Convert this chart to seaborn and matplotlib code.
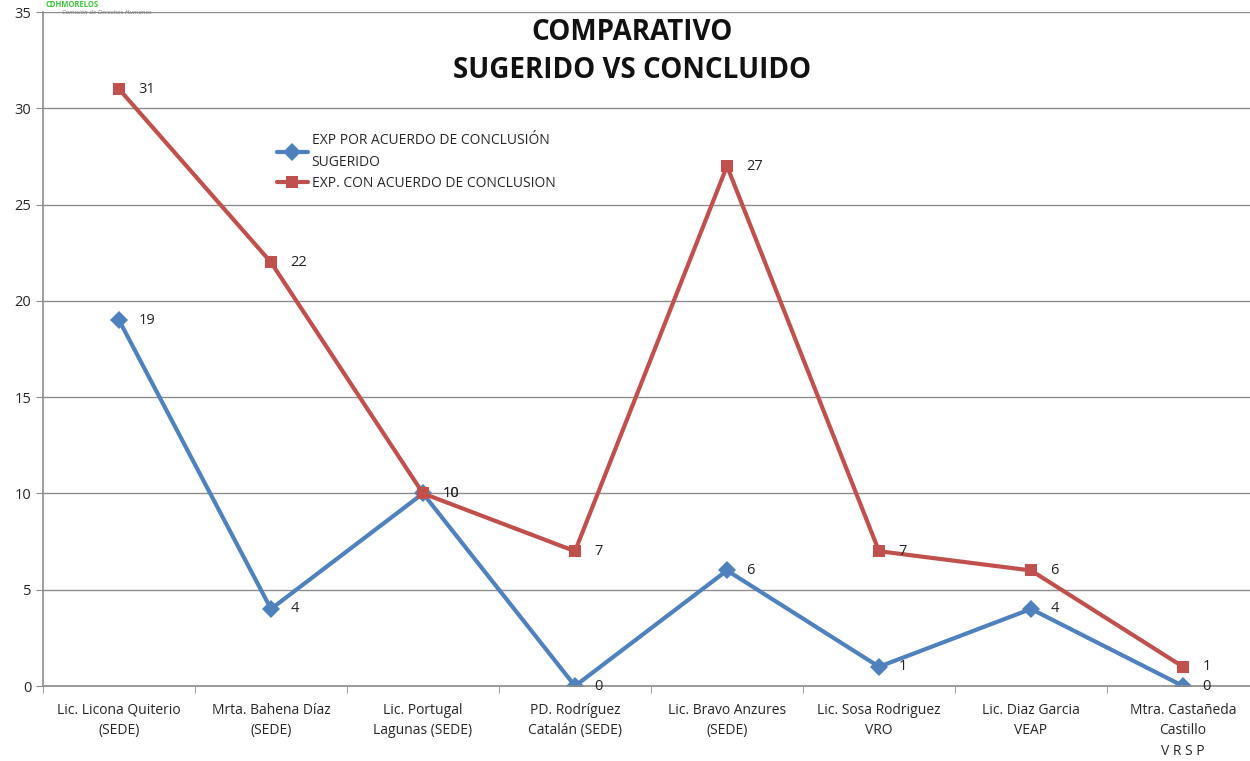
import matplotlib
matplotlib.use("Agg")
import matplotlib.pyplot as plt
import seaborn as sns
import pandas as pd

categories = [
    "Lic. Licona Quiterio\n(SEDE)",
    "Mrta. Bahena Díaz\n(SEDE)",
    "Lic. Portugal\nLagunas (SEDE)",
    "PD. Rodríguez\nCatalán (SEDE)",
    "Lic. Bravo Anzures\n(SEDE)",
    "Lic. Sosa Rodriguez\nVRO",
    "Lic. Diaz Garcia\nVEAP",
    "Mtra. Castañeda\nCastillo\nV R S P",
]
sugerido = [19, 4, 10, 0, 6, 1, 4, 0]
concluido = [31, 22, 10, 7, 27, 7, 6, 1]
series_names = ["EXP POR ACUERDO DE CONCLUSIÓN\nSUGERIDO", "EXP. CON ACUERDO DE CONCLUSION"]

sns.set_style("white")
plt.rcParams['font.family'] = ['Open Sans', 'DejaVu Sans']

fig = plt.figure(figsize=(12.5, 7.61), dpi=100)
ax = fig.add_axes([43/1250, 75/761, (1259-43)/1250, 674/761])

df = pd.DataFrame({
    "cat": categories * 2,
    "val": sugerido + concluido,
    "serie": [series_names[0]] * len(categories) + [series_names[1]] * len(categories),
})

blue = "#4F81BD"
red = "#C0504D"
sns.lineplot(data=df, x="cat", y="val", hue="serie", style="serie",
             palette={series_names[0]: blue, series_names[1]: red},
             markers={series_names[0]: "D", series_names[1]: "s"},
             dashes=False, sort=False, linewidth=3, markersize=9,
             markeredgewidth=0, ax=ax)

for i, v in enumerate(sugerido):
    ax.annotate(str(v), (i, v), xytext=(14, 0), textcoords="offset points",
                va="center", ha="left", fontsize=10.5, color="#222222")
for i, v in enumerate(concluido):
    ax.annotate(str(v), (i, v), xytext=(14, 0), textcoords="offset points",
                va="center", ha="left", fontsize=10.5, color="#222222")

ax.set_ylim(0, 35)
ax.set_xlim(-0.5, 7.5)
ax.set_yticks(range(0, 36, 5))
ax.yaxis.grid(True, color="#8c8c8c", linewidth=1)
ax.xaxis.grid(False)
ax.set_axisbelow(True)
ax.set_xlabel("")
ax.set_ylabel("")
ax.set_xticks(range(len(categories)))
ax.set_xticklabels(categories, fontsize=10, linespacing=1.5)
ax.tick_params(axis="x", length=0, pad=12)
ax.tick_params(axis="y", length=5, color="#8c8c8c", labelsize=10.5, direction="out", left=True)
ax.set_xticks([i + 0.5 for i in range(-1, len(categories))], minor=True)
ax.tick_params(axis="x", which="minor", length=5, color="#8c8c8c", direction="out", bottom=True)
for s in ["top", "right"]:
    ax.spines[s].set_visible(False)
for s in ["left", "bottom"]:
    ax.spines[s].set_color("#8c8c8c")
    ax.spines[s].set_linewidth(1.2)

leg = ax.legend(loc="upper left", bbox_to_anchor=((277-43)/1216, (686-133)/674), frameon=False,
                fontsize=10, handlelength=2.2, handletextpad=0.3, labelspacing=0.45,
                borderaxespad=0, borderpad=0)
for t in leg.get_texts():
    t.set_linespacing(1.6)

fig.text(632/1250, 1 - 33/761, "COMPARATIVO", ha="center", va="center",
         fontsize=20, fontweight="bold", color="#111111")
fig.text(632/1250, 1 - 71/761, "SUGERIDO VS CONCLUIDO", ha="center", va="center",
         fontsize=20, fontweight="bold", color="#111111")

# logo at top-left
fig.text(45/1250, 1, "CDHMORELOS", ha="left", va="top",
         fontsize=5.5, fontweight="bold", color="#3cc43c")
fig.text(62/1250, 1 - 13/761, "Comisión de Derechos Humanos", ha="left", va="center",
         fontsize=4.5, style="italic", color="#777777")

fig.savefig("out.png", dpi=100)
